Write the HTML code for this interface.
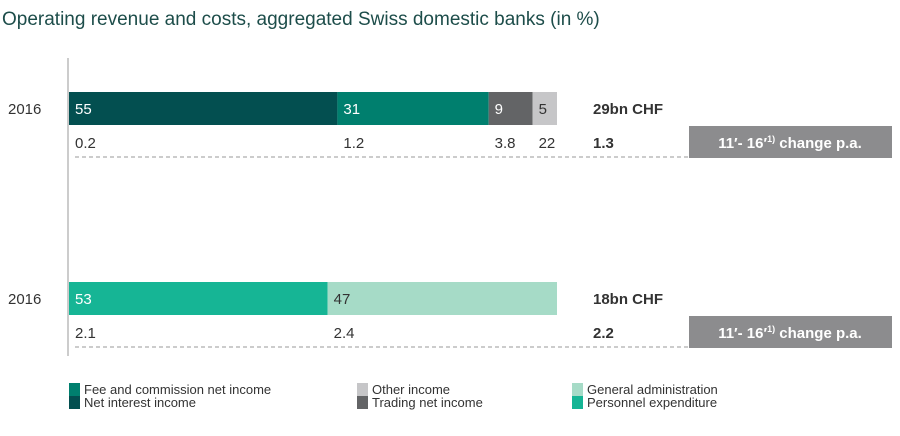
<!DOCTYPE html>
<html><head><meta charset="utf-8"><style>
body{margin:0;width:900px;height:431px;background:#fff;font-family:"Liberation Sans",sans-serif;overflow:hidden}
svg text{font-family:"Liberation Sans",sans-serif}
</style></head><body>
<svg id="c" width="900" height="431">
<text x="2" y="25" font-size="19" fill="#1d4d4a">Operating revenue and costs, aggregated Swiss domestic banks  (in %)</text>
<line x1="68" y1="58" x2="68" y2="356" stroke="#999" stroke-width="1"/>
</svg>
<script>
const rowLabels=["2016","2016"];
const revenueValues=[55,31,9,5];
const revenueChanges=["0.2","1.2","3.8","22"];
const costValues=[53,47];
const costChanges=["2.1","2.4"];
const totals=["29bn CHF","18bn CHF"];
const totalChanges=["1.3","2.2"];
const revColors=["#034f50","#007f6e","#636466","#c6c6c8"];
const costColors=["#16b595","#a6dbc7"];
const svg=document.getElementById('c');
const NS='http://www.w3.org/2000/svg';
const x0=69,scale=4.88;
const xs=v=>v*scale;
function mk(t,a,txt){const e=document.createElementNS(NS,t);for(const k in a)e.setAttribute(k,a[k]);if(txt!==undefined)e.textContent=txt;svg.appendChild(e);return e;}
function row(y,vals,chg,cols,ri){
  const yl=mk('text',{x:8,y:y+22,'font-size':15,fill:'#333'},rowLabels[ri]);
  
  
  let x=x0;
  vals.forEach((v,i)=>{
    const r=mk('rect',{x:x,y:y,width:xs(v),height:33,fill:cols[i]});
    
    
    const t=mk('text',{x:x+6,y:y+22,'font-size':15,fill:(cols[i]=='#c6c6c8'||cols[i]=='#a6dbc7')?'#333':'#fff'},String(v));
    
    
    const c=mk('text',{x:x+6,y:y+56,'font-size':15,fill:'#333'},chg[i]||'');
    
    
    x+=xs(v);
  });
  const tt=mk('text',{x:593,y:y+22,'font-size':15,'font-weight':'bold',fill:'#333'},totals[ri]);
  
  
  const tc=mk('text',{x:593,y:y+56,'font-size':15,'font-weight':'bold',fill:'#333'},totalChanges[ri]);
  
  
  const dl=mk('line',{x1:75,y1:y+65,x2:690,y2:y+65,stroke:'#999','stroke-dasharray':'4,3'});
  
  
  const bx=mk('rect',{x:689,y:y+34,width:203,height:32,fill:'#8c8c8e'});
  
  
  const bt=mk('text',{x:790,y:y+56,'font-size':15,'font-weight':'bold',fill:'#fff','text-anchor':'middle'});
  bt.innerHTML='11′- 16′<tspan font-size="9" dy="-6">1)</tspan><tspan dy="6"> change p.a.</tspan>';
  
  
}
row(92,revenueValues,revenueChanges,revColors,0);
row(282,costValues,costChanges,costColors,1);
const legend=[[69,383,"#007f6e","Fee and commission net income"],[69,396,"#034f50","Net interest income"],[357,383,"#c6c6c8","Other income"],[357,396,"#636466","Trading net income"],[572,383,"#a6dbc7","General administration"],[572,396,"#16b595","Personnel expenditure"]];
legend.forEach(l=>{
  const r=mk('rect',{x:l[0],y:l[1],width:11,height:13,fill:l[2]});
  
  
  const t=mk('text',{x:l[0]+15,y:l[1]+11,'font-size':13,fill:'#333'},l[3]);
  
  
});
</script>
</body></html>
